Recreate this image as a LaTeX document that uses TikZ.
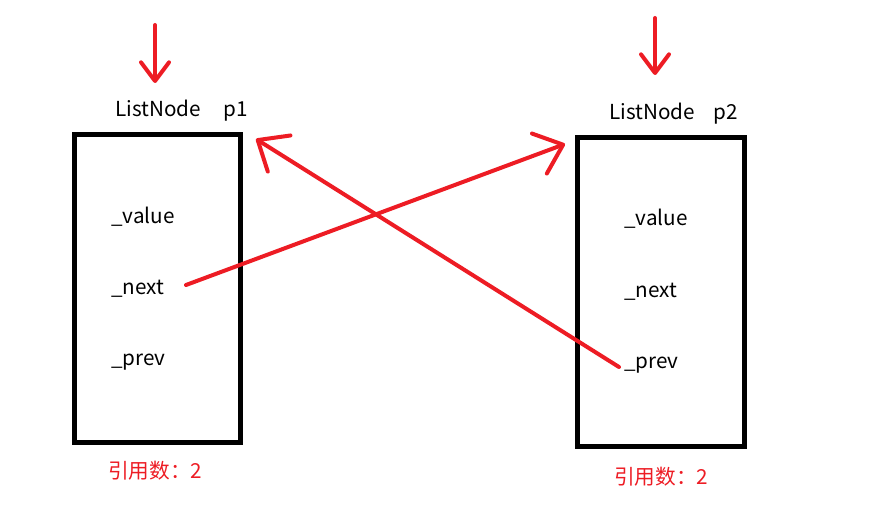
\documentclass[tikz,border=0pt]{standalone}
\usepackage{fontspec}
\setmainfont{Noto Sans CJK SC}
\usetikzlibrary{arrows.meta}
\definecolor{pred}{HTML}{ED1C24}
\begin{document}
\begin{tikzpicture}[x=0.75pt,y=-0.75pt,
  every node/.style={inner sep=0pt,font=\fontsize{15.5pt}{18pt}\selectfont},
  lbl/.style={anchor=base west},
  rlbl/.style={anchor=base west,text=pred},
  nodebox/.style={draw=black,line width=3.75pt},
  redarrow/.style={draw=pred,line width=3pt,line cap=round,
    -{Straight Barb[length=19pt,width=32pt,round]}},
  downarrow/.style={draw=pred,line width=3pt,line cap=round,
    -{Straight Barb[length=14pt,width=21pt,round]}}]
\useasboundingbox (0,0) rectangle (884,524);
% boxes
\draw[nodebox] (74,135) rectangle (240,442);
\draw[nodebox] (577,138) rectangle (744,446);
% titles
\node[lbl] (ln1) at (115,117) {ListNode};
\node[lbl] (p1) at (223,117) {p1};
\node[lbl] (ln2) at (609,120) {ListNode};
\node[lbl] (p2) at (713,120) {p2};
% fields
\node[lbl] (v1) at (111,223) {\_value};
\node[lbl] (n1) at (111,294) {\_next};
\node[lbl] (r1) at (111,365) {\_prev};
\node[lbl] (v2) at (624,225) {\_value};
\node[lbl] (n2) at (624,297) {\_next};
\node[lbl] (r2) at (624,368) {\_prev};
% reference counts
\node[rlbl] (c1) at (108,478) {引用数：2};
\node[rlbl] (c2) at (614,484) {引用数：2};
% down arrows
\coordinate (d1s) at (155,25);
\coordinate (d1e) at (155,83);
\coordinate (d2s) at (655,18);
\coordinate (d2e) at (655,75);
\draw[downarrow] (d1s) -- (d1e);
\draw[downarrow] (d2s) -- (d2e);
% crossing arrows
\coordinate (as) at (186,285);
\coordinate (ae) at (565,144);
\coordinate (bs) at (619,367);
\coordinate (be) at (256,139);
\draw[redarrow] (as) -- (ae);
\draw[redarrow] (bs) -- (be);
\end{tikzpicture}
\end{document}
